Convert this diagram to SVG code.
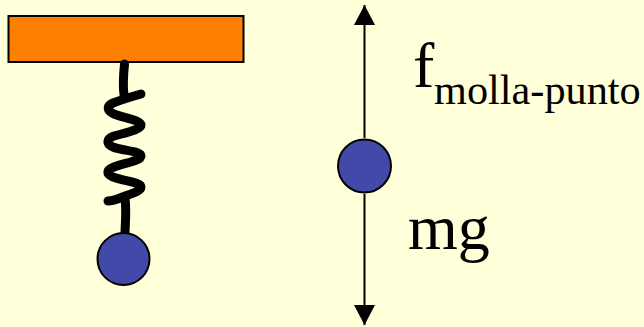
<svg xmlns="http://www.w3.org/2000/svg" width="644" height="327" viewBox="0 0 644 327">
<style>
.ball{fill:#4349a8;stroke:#000;stroke-width:2}
.lbl{font-family:"Liberation Serif","Times New Roman",serif;fill:#000}
.force{stroke:#000;stroke-width:2;fill:none}
</style>
<defs>
<marker id="arrow" markerUnits="userSpaceOnUse" markerWidth="22" markerHeight="22" refX="20" refY="10.500" orient="auto-start-reverse"><path d="M0 0L20 10.500L0 21Z" fill="#000"/></marker>
</defs>
<rect width="644" height="327" fill="#ffffd9"/>
<g id="support"><rect x="8.500" y="16" width="235" height="46" fill="#ff7f00" stroke="#000" stroke-width="2"/></g>
<g id="connectors">
<path id="spring" d="M124.500 64C123.500 74 122.500 84 124 95M141 94C134 96 121 100 113 103C106 106 107 111 114 114C124 118 141 120 141 125C141 130 124 133 114 136C106 139 106 144 113 147C123 151 141 151 141 156C141 161 124 163 114 167C106 170 106 174 113 177C123 181 141 182 141 187C141 192 127 195 120 198C115 200 110 201 108 201M125 199C126.500 208 125.500 220 125 232" fill="none" stroke="#000" stroke-width="9" stroke-linecap="round"/>
<line class="force" x1="364.500" y1="138" x2="364.500" y2="5" marker-end="url(#arrow)"/>
<line class="force" x1="364.500" y1="194" x2="364.500" y2="325" marker-end="url(#arrow)"/>
</g>
<g id="hanging-ball"><circle class="ball" cx="123.500" cy="259" r="26"/></g>
<g id="free-ball"><circle class="ball" cx="364.500" cy="166" r="26.500"/></g>
<g id="force-labels">
<text class="lbl" x="413" y="87" font-size="64">f</text>
<text class="lbl" x="434" y="104" font-size="42.300">molla-punto</text>
<text class="lbl" x="408" y="249" font-size="64">mg</text>
</g>
</svg>
